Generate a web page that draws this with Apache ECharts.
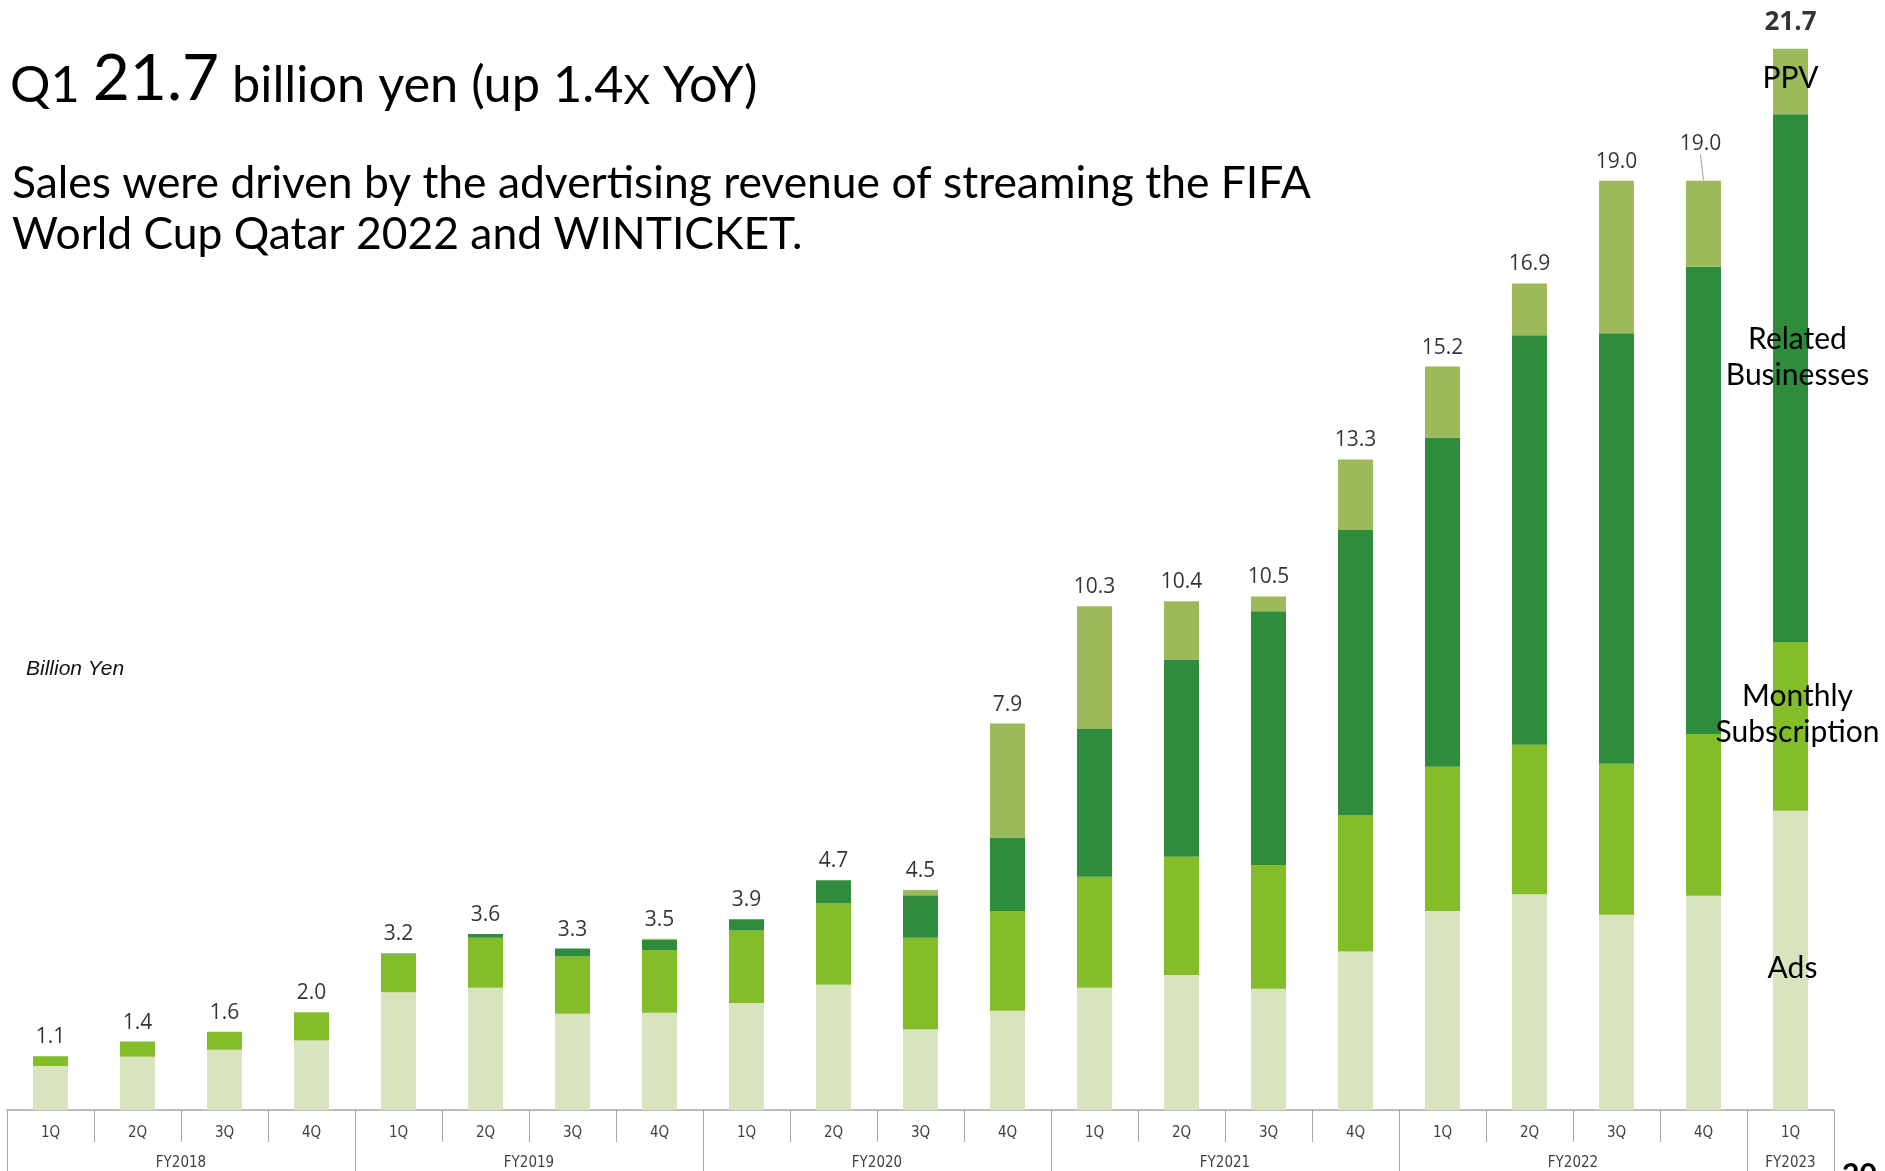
<!DOCTYPE html>
<html>
<head>
<meta charset="utf-8">
<title>Revenue by quarter</title>
<script src="https://cdn.jsdelivr.net/npm/echarts@6/dist/echarts.min.js"></script>
<style>
  html, body { margin: 0; padding: 0; background: #fff; }
  #chart { width: 1885px; height: 1171px; }
</style>
</head>
<body>
<div id="chart"></div>
<script>
// Quarter categories and fiscal-year groups
const quarters = ['1Q','2Q','3Q','4Q','1Q','2Q','3Q','4Q','1Q','2Q','3Q','4Q','1Q','2Q','3Q','4Q','1Q','2Q','3Q','4Q','1Q'];
const fiscalYears = ['FY2018','FY2019','FY2020','FY2021','FY2022','FY2023'];
const fiscalYearCenters = [2, 6, 10, 14, 18, 20.5];
const fiscalYearBounds = [0, 4, 8, 12, 16, 20, 21];

// Segment values (billion yen)
const ads     = [0.90,1.09,1.23,1.42, 2.41,2.50,1.97,1.99, 2.19,2.56,1.65,2.03, 2.50,2.76,2.48,3.24, 4.07,4.41,3.99,4.38, 6.12];
const monthly = [0.20,0.31,0.37,0.58, 0.77,1.02,1.17,1.28, 1.48,1.66,1.87,2.04, 2.27,2.42,2.53,2.78, 2.95,3.06,3.09,3.31, 3.45];
const related = [0,0,0,0, 0.02,0.08,0.16,0.21, 0.23,0.48,0.87,1.50, 3.02,4.03,5.19,5.84, 6.73,8.37,8.80,9.55, 10.79];
const ppv     = [0,0,0,0, 0,0,0,0.02, 0,0,0.11,2.33, 2.51,1.19,0.30,1.44, 1.45,1.06,3.12,1.76, 1.34];

// Quarterly totals shown above each bar
const totals  = [1.1,1.4,1.6,2.0, 3.2,3.6,3.3,3.5, 3.9,4.7,4.5,7.9, 10.3,10.4,10.5,13.3, 15.2,16.9,19.0,19.0, 21.7];

const seriesNames = ['Ads', 'Monthly\nSubscription', 'Related\nBusinesses', 'PPV'];
const seriesColors = ['#d8e4bd', '#84bd2a', '#2e8c3c', '#9dba5a'];
const seriesValues = [ads, monthly, related, ppv];
// Offsets of the in-bar series names on the latest quarter
const nameOffsets = [[2, 8], [7, -12], [7, -21], [0, -3]];

const last = quarters.length - 1;
const raisedLabel = 19; // label lifted with a guide line

const chart = echarts.init(document.getElementById('chart'), null, { renderer: 'canvas' });

const barSeries = seriesValues.map((vals, s) => ({
  name: seriesNames[s],
  type: 'bar',
  stack: 'sales',
  barWidth: 35,
  itemStyle: { color: seriesColors[s] },
  emphasis: { disabled: true },
  data: vals.map((v, i) => i === last ? {
    value: v,
    label: {
      show: true,
      position: 'inside',
      offset: nameOffsets[s],
      formatter: seriesNames[s],
      fontFamily: 'Lato',
      fontSize: 30,
      lineHeight: 36,
      color: '#000',
      align: 'center'
    }
  } : v)
}));

const totalSeries = {
  name: 'Total',
  type: 'scatter',
  symbolSize: 1,
  itemStyle: { color: 'rgba(0,0,0,0)' },
  emphasis: { disabled: true },
  z: 10,
  label: {
    show: true,
    position: 'top',
    distance: 8,
    fontFamily: 'Open Sans',
    fontSize: 21,
    color: '#000',
    formatter: p => Number(p.value).toFixed(1)
  },
  labelLine: { show: false, lineStyle: { color: '#a0a0a0', width: 1 } },
  labelLayout: p => p.dataIndex === raisedLabel ? { dx: -3, dy: -18 } : {},
  data: totals.map((v, i) => {
    if (i === last) {
      return { value: v, label: { fontSize: 26, fontWeight: 'bold', distance: 13, color: '#000' } };
    }
    if (i === raisedLabel) {
      return { value: v, labelLine: { show: true, lineStyle: { color: '#a0a0a0', width: 1 } } };
    }
    return v;
  })
};

const axisFont = "'DejaVu Sans Condensed', 'Liberation Sans Narrow', sans-serif";

const option = {
  animation: false,
  backgroundColor: '#ffffff',
  title: [
    {
      left: 10,
      top: 47,
      padding: 0,
      text: '{a|Q1 }{b|21.7}{a| billion yen (up 1.4}{s|X}{a| YoY)}',
      textStyle: {
        fontWeight: 'normal',
        rich: {
          a: { fontFamily: 'Lato', fontWeight: 'normal', fontSize: 50.5, lineHeight: 50, color: '#000', verticalAlign: 'bottom' },
          b: { fontFamily: 'Lato', fontWeight: 'normal', fontSize: 64, lineHeight: 64, color: '#000', verticalAlign: 'bottom' },
          s: { fontFamily: 'Lato', fontWeight: 'normal', fontSize: 41, lineHeight: 41, color: '#000', verticalAlign: 'bottom' }
        }
      }
    },
    {
      left: 12,
      top: 158,
      padding: 0,
      text: 'Sales were driven by the advertising revenue of streaming the FIFA\nWorld Cup Qatar 2022 and WINTICKET.',
      textStyle: { fontFamily: 'Lato', fontSize: 44.4, lineHeight: 51, fontWeight: 'normal', color: '#000' }
    },
    {
      left: 26,
      top: 659,
      padding: 0,
      text: 'Billion Yen',
      textStyle: { fontFamily: 'Liberation Sans', fontStyle: 'italic', fontSize: 21, fontWeight: 'normal', color: '#111' }
    }
  ],
  grid: { left: 7, right: 51, top: 34, bottom: 61, containLabel: false },
  xAxis: [
    {
      type: 'category',
      data: quarters,
      position: 'bottom',
      axisLine: { show: true, lineStyle: { color: '#a6a6a6', width: 1.5 } },
      axisTick: { show: true, interval: 0, length: 32, lineStyle: { color: '#a6a6a6', width: 1 } },
      axisLabel: {
        interval: 0,
        margin: 16,
        fontFamily: axisFont,
        fontSize: 15,
        color: '#404040'
      }
    },
    {
      type: 'value',
      min: 0,
      max: quarters.length,
      position: 'bottom',
      axisLine: { show: false },
      splitLine: { show: false },
      axisTick: {
        show: true,
        customValues: fiscalYearBounds,
        length: 62,
        lineStyle: { color: '#a6a6a6', width: 1 }
      },
      axisLabel: {
        customValues: fiscalYearCenters,
        margin: 46,
        fontFamily: axisFont,
        fontSize: 15,
        color: '#404040',
        formatter: v => fiscalYears[fiscalYearCenters.indexOf(v)] || ''
      }
    }
  ],
  yAxis: { type: 'value', min: 0, max: 22, show: false },
  graphic: [
    {
      type: 'text',
      left: 1842,
      top: 1160,
      style: { text: '20', font: 'bold 30px Lato', fill: '#000' }
    }
  ],
  series: [...barSeries, totalSeries]
};

chart.setOption(option);
</script>
</body>
</html>
